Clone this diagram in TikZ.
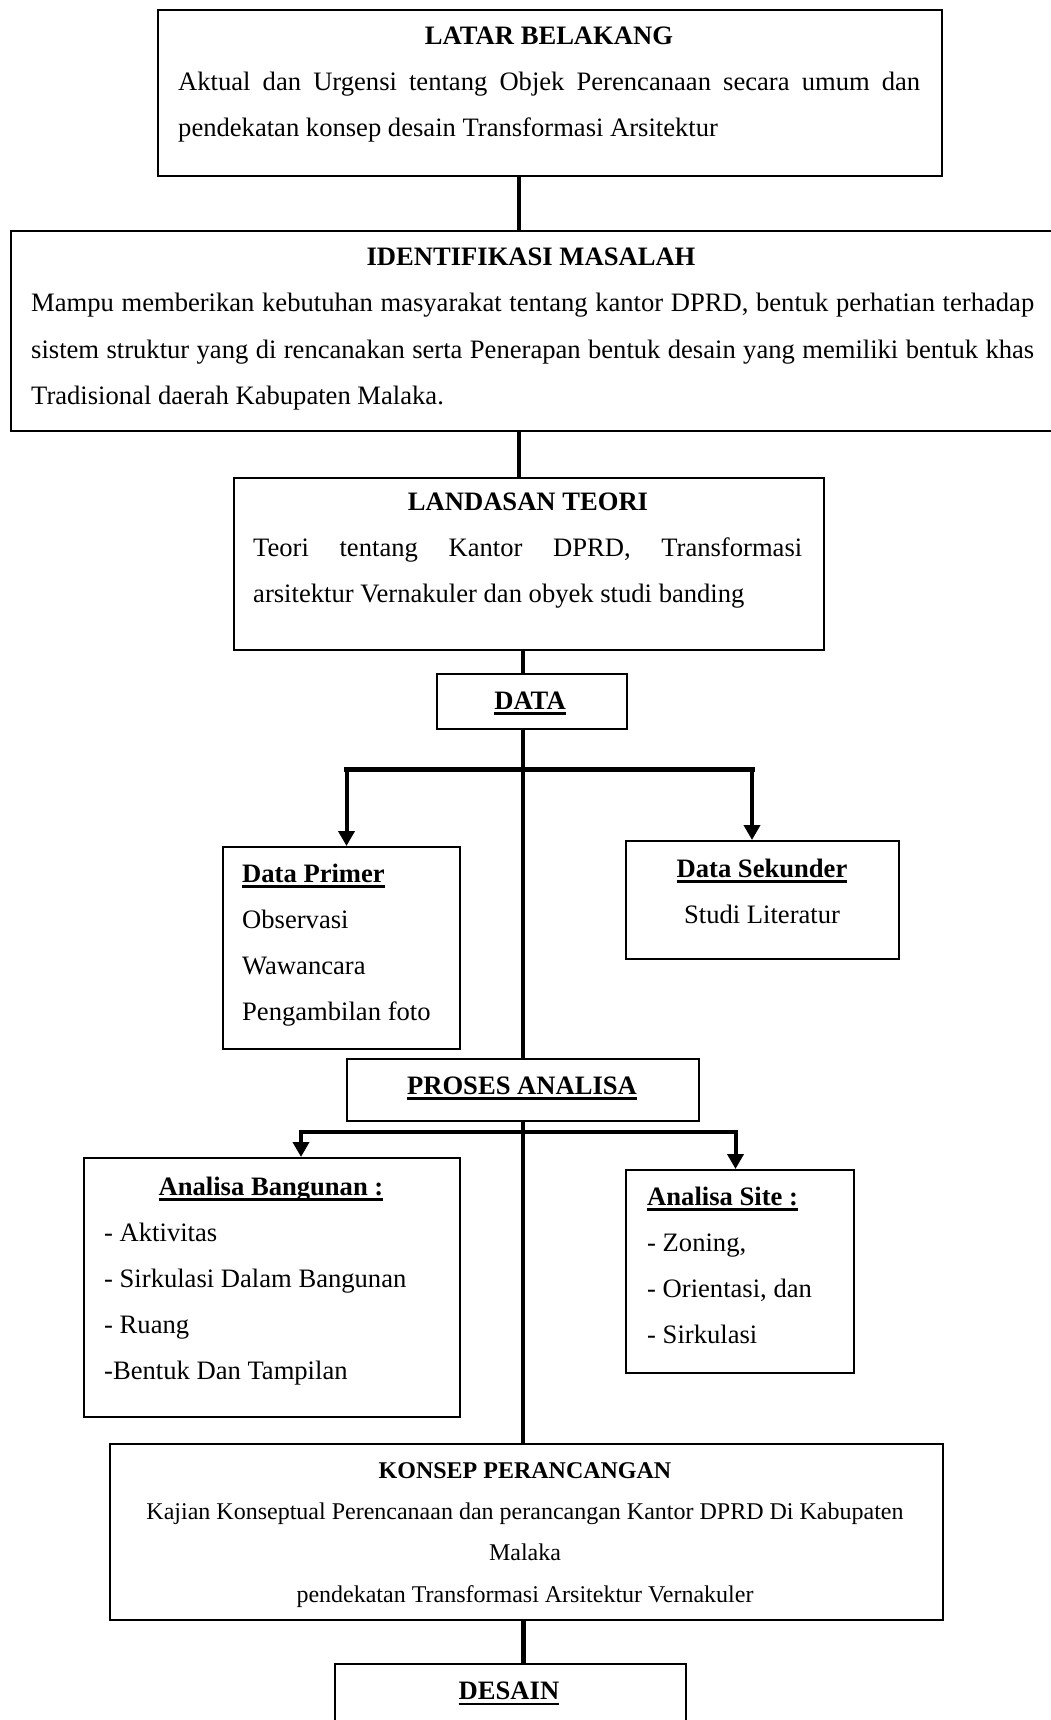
\documentclass[tikz,border=0pt]{standalone}
\usepackage{fontspec}
\setmainfont{Liberation Serif}
\usetikzlibrary{arrows.meta}
\newcommand\fs{\fontsize{26.6pt}{32pt}\selectfont}
\newcommand\fk{\fontsize{24pt}{29pt}\selectfont}
\newsavebox\ulbox
\newcommand\ulb[1]{\sbox\ulbox{#1}\rlap{\raisebox{-5.5pt}{\rule{\wd\ulbox}{2.4pt}}}\usebox\ulbox}
\tikzset{
  box/.style={draw, line width=2pt, anchor=north west, inner sep=0pt, fill=none},
  tx/.style={inner sep=0pt, font=\fs, anchor=base west},
  txc/.style={inner sep=0pt, font=\fs, anchor=base},
  tk/.style={inner sep=0pt, font=\fk, anchor=base},
  conn/.style={line width=3.7pt},
  thickconn/.style={line width=5pt},
  bar/.style={line width=5.7pt, line cap=rect},
  barb/.style={line width=4pt, line cap=rect},
  arr/.style={line width=4pt, -{Triangle[length=15pt,width=16pt]}}
}
\begin{document}
\begin{tikzpicture}[x=1pt,y=-1pt]
\useasboundingbox (0,0) rectangle (1051,1720);
\fill[white] (0,0) rectangle (1051,1720);
\clip (0,0) rectangle (1051,1720);

% boxes
\node[box, minimum width=784pt, minimum height=166pt] (lb) at (157,9) {};
\node[box, minimum width=1050pt, minimum height=200pt] (im) at (10,230) {};
\node[box, minimum width=590pt, minimum height=172pt] (lt) at (233,477) {};
\node[box, minimum width=190pt, minimum height=55pt] (da) at (436,673) {};
\node[box, minimum width=237pt, minimum height=202pt] (dp) at (222,846) {};
\node[box, minimum width=273pt, minimum height=118pt] (dsk) at (625,840) {};
\node[box, minimum width=352pt, minimum height=62pt] (pa) at (346,1058) {};
\node[box, minimum width=376pt, minimum height=259pt] (ab) at (83,1157) {};
\node[box, minimum width=228pt, minimum height=203pt] (as) at (625,1169) {};
\node[box, minimum width=833pt, minimum height=176pt] (kp) at (109,1443) {};
\node[box, minimum width=351pt, minimum height=90pt] (de) at (334,1663) {};

% texts: Latar Belakang
\node[txc] (lbT) at (549,45) {\textbf{LATAR BELAKANG}};
\node[tx] (lb1) at (178,91) {\makebox[742pt][s]{Aktual dan Urgensi tentang Objek Perencanaan secara umum dan}};
\node[tx] (lb2) at (178,136.5) {pendekatan konsep desain Transformasi Arsitektur};

% Identifikasi Masalah
\node[txc] (imT) at (531,265.5) {\textbf{IDENTIFIKASI MASALAH}};
\node[tx] (im1) at (31,311.7) {\makebox[1003pt][s]{Mampu memberikan kebutuhan masyarakat tentang kantor DPRD, bentuk perhatian terhadap}};
\node[tx] (im2) at (31,358.2) {\makebox[1003pt][s]{sistem struktur yang di rencanakan serta Penerapan bentuk desain yang memiliki bentuk khas}};
\node[tx] (im3) at (31,404.4) {Tradisional daerah Kabupaten Malaka.};

% Landasan Teori
\node[txc] (ltT) at (528,510.6) {\textbf{LANDASAN TEORI}};
\node[tx] (lt1) at (253,556.6) {\makebox[549pt][s]{Teori tentang Kantor DPRD, Transformasi}};
\node[tx] (lt2) at (253,602.7) {arsitektur Vernakuler dan obyek studi banding};

% Data
\node[txc] (daT) at (530,709) {\ulb{\textbf{DATA}}};

% Data Primer
\node[tx] (dpT) at (242,882) {\ulb{\textbf{Data Primer}}};
\node[tx] (dp1) at (242,928) {Observasi};
\node[tx] (dp2) at (242,974) {Wawancara};
\node[tx] (dp3) at (242,1020) {Pengambilan foto};

% Data Sekunder
\node[txc] (dsT) at (762,877) {\ulb{\textbf{Data Sekunder}}};
\node[txc] (ds1) at (762,923) {Studi Literatur};

% Proses Analisa
\node[txc] (paT) at (522,1094) {\ulb{\textbf{PROSES ANALISA}}};

% Analisa Bangunan
\node[txc] (abT) at (271,1195) {\ulb{\textbf{Analisa Bangunan :}}};
\node[tx] (ab1) at (104,1241) {- Aktivitas};
\node[tx] (ab2) at (104,1287) {- Sirkulasi Dalam Bangunan};
\node[tx] (ab3) at (104,1333) {- Ruang};
\node[tx] (ab4) at (104,1379) {-Bentuk Dan Tampilan};

% Analisa Site
\node[tx] (asT) at (647,1205) {\ulb{\textbf{Analisa Site :}}};
\node[tx] (as1) at (647,1251) {- Zoning,};
\node[tx] (as2) at (647,1297) {- Orientasi, dan};
\node[tx] (as3) at (647,1343) {- Sirkulasi};

% Konsep Perancangan
\node[tk] (kpT) at (525,1478) {\textbf{KONSEP PERANCANGAN}};
\node[tk] (kp1) at (525,1519) {Kajian Konseptual Perencanaan dan perancangan Kantor DPRD Di Kabupaten};
\node[tk] (kp2) at (525,1560.5) {Malaka};
\node[tk] (kp3) at (525,1602) {pendekatan Transformasi Arsitektur Vernakuler};

% Desain
\node[txc] (deT) at (509,1699.5) {\ulb{\textbf{DESAIN}}};

% connector helpers
\coordinate (cA) at (519,0);
\coordinate (cB) at (523,0);
\coordinate (b1l) at (346.5,769.5);
\coordinate (b1r) at (752,769.5);
\coordinate (b2l) at (301,1132);
\coordinate (b2r) at (735.5,1132);

% connectors
\draw[conn] (lb.south -| cA) -- (im.north -| cA);
\draw[conn] (im.south -| cA) -- (lt.north -| cA);
\draw[conn] (lt.south -| cB) -- (da.north -| cB);
\draw[conn] (da.south -| cB) -- (pa.north -| cB);
\draw[conn] (pa.south -| cB) -- (kp.north -| cB);
\draw[thickconn] (kp.south -| cB) -- (de.north -| cB);

\draw[bar] (b1l) -- (b1r);
\draw[arr] (b1l) -- (dp.north -| b1l);
\draw[arr] (b1r) -- (dsk.north -| b1r);

\draw[barb] (b2l) -- (b2r);
\draw[arr] (b2l) -- (ab.north -| b2l);
\draw[arr] (b2r) -- (as.north -| b2r);
\end{tikzpicture}
\end{document}
